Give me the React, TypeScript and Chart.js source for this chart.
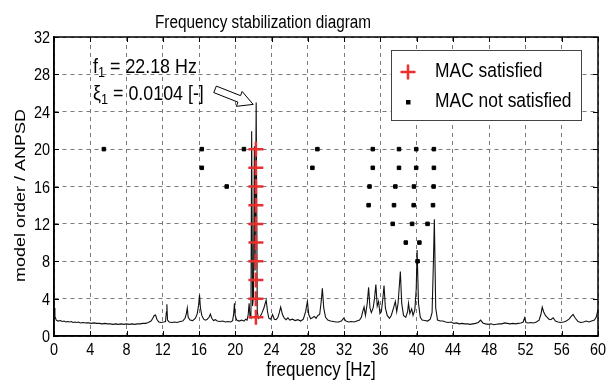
import React, { useEffect, useRef } from "react";
import { Chart, registerables } from "chart.js";

Chart.register(...registerables);

// ---------- data ----------
const X_TICKS = [0, 4, 8, 12, 16, 20, 24, 28, 32, 36, 40, 44, 48, 52, 56, 60];
const Y_TICKS = [0, 4, 8, 12, 16, 20, 24, 28, 32];

// ANPSD spectrum: [frequency Hz, value]
const ANPSD: [number, number][] = [
  [0.0, 3.0], [0.1, 2.1], [0.25, 1.7], [0.45, 1.6], [0.7, 1.65], [0.9, 1.55], [1.1, 1.6], [1.3, 1.5],
  [1.5, 1.55], [1.7, 1.5], [1.9, 1.55], [2.1, 1.45], [2.3, 1.5], [2.5, 1.45], [2.7, 1.5], [2.9, 1.4],
  [3.2, 1.45], [3.5, 1.4], [3.8, 1.4], [4.1, 1.35], [4.4, 1.4], [4.7, 1.35], [5.0, 1.35], [5.3, 1.3],
  [5.6, 1.35], [5.9, 1.3], [6.2, 1.3], [6.5, 1.25], [6.8, 1.3], [7.1, 1.25], [7.4, 1.3], [7.7, 1.25],
  [8.0, 1.3], [8.3, 1.25], [8.6, 1.3], [8.9, 1.25], [9.2, 1.3], [9.5, 1.3], [9.8, 1.35], [10.1, 1.35],
  [10.4, 1.45], [10.7, 1.6], [10.9, 1.9], [11.05, 2.2], [11.2, 2.25], [11.35, 1.8], [11.55, 1.5], [11.8, 1.45],
  [12.1, 1.5], [12.3, 1.55], [12.4, 2.6], [12.45, 3.4], [12.52, 1.7], [12.7, 1.5], [13.0, 1.45], [13.3, 1.5],
  [13.6, 1.45], [13.9, 1.55], [14.2, 1.6], [14.45, 1.9], [14.6, 2.4], [14.7, 3.0], [14.8, 2.0], [15.0, 1.7],
  [15.3, 1.65], [15.6, 1.9], [15.8, 2.4], [15.95, 3.3], [16.05, 4.4], [16.15, 3.0], [16.3, 2.2], [16.5, 1.8],
  [16.7, 1.7], [16.9, 1.8], [17.1, 2.0], [17.25, 2.35], [17.4, 1.9], [17.6, 1.65], [17.8, 1.75], [18.0, 1.6],
  [18.3, 1.55], [18.6, 1.6], [18.9, 1.5], [19.2, 1.55], [19.5, 1.5], [19.7, 1.65], [19.82, 2.4], [19.9, 3.5],
  [19.98, 2.2], [20.15, 1.7], [20.4, 1.6], [20.7, 1.7], [20.95, 1.6], [21.15, 1.8], [21.3, 1.7], [21.42, 2.3],
  [21.52, 3.5], [21.62, 2.0], [21.72, 1.9], [21.8, 21.9], [21.9, 3.2], [22.0, 4.2], [22.1, 20.3], [22.18, 7.0],
  [22.3, 25.0], [22.42, 2.6], [22.55, 1.9], [22.75, 2.1], [22.95, 2.5], [23.15, 3.0], [23.4, 3.85], [23.55, 2.6],
  [23.7, 1.9], [23.9, 1.8], [24.1, 2.3], [24.3, 1.8], [24.5, 1.75], [24.7, 2.0], [24.85, 2.5], [25.0, 3.1],
  [25.2, 2.3], [25.4, 1.9], [25.6, 1.75], [25.8, 1.95], [26.0, 1.7], [26.3, 1.8], [26.6, 1.65], [26.9, 1.75],
  [27.2, 1.6], [27.5, 1.8], [27.75, 2.6], [27.95, 3.7], [28.1, 2.3], [28.3, 1.85], [28.5, 1.95], [28.7, 2.1],
  [28.9, 1.9], [29.1, 2.2], [29.3, 2.3], [29.45, 3.5], [29.6, 5.1], [29.75, 3.0], [29.95, 2.0], [30.2, 1.7],
  [30.5, 1.6], [30.8, 1.55], [31.1, 1.5], [31.4, 1.5], [31.7, 1.6], [31.95, 1.9], [32.2, 1.6], [32.5, 1.5],
  [32.8, 1.55], [33.1, 1.5], [33.4, 1.6], [33.7, 1.7], [33.9, 2.0], [34.05, 2.6], [34.2, 3.1], [34.35, 2.2],
  [34.55, 3.5], [34.7, 5.2], [34.85, 3.0], [35.0, 2.5], [35.2, 3.0], [35.35, 4.0], [35.5, 5.5], [35.65, 3.2],
  [35.8, 3.7], [35.95, 2.4], [36.1, 2.6], [36.25, 3.8], [36.4, 5.4], [36.55, 3.0], [36.75, 2.2], [37.0, 1.9],
  [37.2, 2.2], [37.45, 3.0], [37.65, 3.7], [37.8, 2.6], [37.95, 3.5], [38.2, 6.9], [38.35, 3.5], [38.55, 2.2],
  [38.8, 2.0], [39.0, 2.6], [39.1, 3.5], [39.25, 2.4], [39.45, 2.9], [39.6, 2.2], [39.8, 2.8], [39.95, 5.0],
  [40.05, 9.2], [40.2, 3.5], [40.4, 2.0], [40.6, 1.7], [40.9, 1.65], [41.2, 1.6], [41.5, 1.8], [41.7, 2.5],
  [41.85, 8.0], [41.95, 12.5], [42.1, 3.0], [42.3, 1.7], [42.6, 1.6], [42.9, 1.6], [43.2, 1.5], [43.5, 1.45],
  [43.8, 1.5], [44.1, 1.35], [44.4, 1.4], [44.7, 1.3], [45.0, 1.35], [45.3, 1.3], [45.6, 1.3], [45.9, 1.25],
  [46.2, 1.3], [46.5, 1.35], [46.8, 1.45], [47.05, 1.7], [47.3, 1.4], [47.6, 1.3], [47.9, 1.25], [48.2, 1.3],
  [48.5, 1.2], [48.8, 1.25], [49.1, 1.3], [49.4, 1.3], [49.7, 1.4], [50.0, 1.35], [50.3, 1.3], [50.6, 1.35],
  [50.9, 1.3], [51.2, 1.35], [51.5, 1.4], [51.75, 1.5], [51.9, 1.95], [52.05, 1.45], [52.3, 1.4], [52.6, 1.45],
  [52.9, 1.4], [53.2, 1.5], [53.5, 1.7], [53.7, 2.3], [53.85, 3.1], [54.0, 2.6], [54.2, 2.2], [54.4, 2.0],
  [54.6, 1.8], [54.8, 1.75], [55.05, 1.95], [55.3, 1.6], [55.6, 1.5], [55.9, 1.45], [56.2, 1.5], [56.5, 1.6],
  [56.8, 1.8], [57.05, 2.1], [57.25, 2.3], [57.5, 1.9], [57.8, 1.55], [58.1, 1.45], [58.4, 1.5], [58.7, 1.6],
  [59.0, 1.5], [59.3, 1.6], [59.6, 1.7], [59.8, 2.0], [60.0, 2.8],
];

// MAC satisfied (stable poles)
const SAT_FREQ = [22.27, 22.26, 22.27, 22.26, 22.27, 22.26, 22.27, 22.27, 22.26, 22.27];
const SAT_ORDER = [2, 4, 6, 8, 10, 12, 14, 16, 18, 20];

// MAC not satisfied
const NOT_FREQ = [
  5.5, 16.3, 20.95, 29.05, 35.16, 38.05, 39.95, 41.9,
  16.3, 28.5, 35.16, 38.05, 39.95, 41.9,
  19.05, 34.8, 37.65, 39.7, 41.87,
  34.7, 37.5, 39.67, 41.8,
  37.36, 39.5, 41.2,
  38.8, 40.3,
  40.1,
];
const NOT_ORDER = [
  20, 20, 20, 20, 20, 20, 20, 20,
  18, 18, 18, 18, 18, 18,
  16, 16, 16, 16, 16,
  14, 14, 14, 14,
  12, 12, 12,
  10, 10,
  8,
];

const TITLE = "Frequency stabilization diagram";
const X_TITLE = "frequency [Hz]";
const Y_TITLE = "model order / ANPSD";
const LEGEND_SAT = "MAC satisfied";
const LEGEND_NOT = "MAC not satisfied";
const ANNOT_FREQ = "22.18";
const ANNOT_DAMP = "0.0104";

// ---------- styling ----------
const FONT = "'Liberation Sans', Arial, sans-serif";
const SX = 0.85; // horizontal condensation of all text
const RED = "#e8302e";

function narrowText(
  ctx: CanvasRenderingContext2D,
  text: string,
  x: number,
  y: number,
  size: number,
  align: CanvasTextAlign = "left",
  baseline: CanvasTextBaseline = "alphabetic"
): number {
  ctx.save();
  ctx.font = `${size}px ${FONT}`;
  ctx.textAlign = align;
  ctx.textBaseline = baseline;
  ctx.translate(x, y);
  ctx.scale(SX, 1);
  ctx.fillText(text, 0, 0);
  const w = ctx.measureText(text).width * SX;
  ctx.restore();
  return w;
}

function subText(ctx: CanvasRenderingContext2D, x: number, y: number, main: string, sub: string, rest: string, size: number) {
  let cx = x;
  cx += narrowText(ctx, main, cx, y, size);
  cx += narrowText(ctx, sub, cx, y + 4, Math.round(size * 0.7));
  narrowText(ctx, rest, cx, y, size);
}

const overlayPlugin = {
  id: "overlay",
  afterDraw(chart: any) {
    const { ctx, chartArea: a, scales } = chart;
    const xs = scales.x;
    const ys = scales.y;
    ctx.save();
    ctx.setLineDash([]);

    // inward tick marks
    ctx.strokeStyle = "#000";
    ctx.lineWidth = 1;
    ctx.beginPath();
    for (const v of X_TICKS) {
      const px = Math.round(xs.getPixelForValue(v)) + 0.5;
      ctx.moveTo(px, a.bottom);
      ctx.lineTo(px, a.bottom - 5);
      ctx.moveTo(px, a.top);
      ctx.lineTo(px, a.top + 5);
    }
    for (const v of Y_TICKS) {
      const py = Math.round(ys.getPixelForValue(v)) + 0.5;
      ctx.moveTo(a.left, py);
      ctx.lineTo(a.left + 5, py);
      ctx.moveTo(a.right, py);
      ctx.lineTo(a.right - 5, py);
    }
    ctx.stroke();

    // frame
    ctx.lineWidth = 1.5;
    ctx.strokeRect(a.left, a.top, a.right - a.left, a.bottom - a.top);

    ctx.fillStyle = "#000";
    // tick labels
    for (const v of X_TICKS) {
      narrowText(ctx, String(v), xs.getPixelForValue(v), a.bottom + 19, 17, "center");
    }
    for (const v of Y_TICKS) {
      narrowText(ctx, String(v), a.left - 4, ys.getPixelForValue(v) + 6, 17, "right");
    }

    // chart title
    narrowText(ctx, TITLE, a.left + 209, 28, 18, "center");
    // x title
    narrowText(ctx, X_TITLE, (a.left + a.right) / 2 - 5, 376, 20, "center");
    // y title (rotated, condensed in screen x)
    ctx.save();
    ctx.font = `18px ${FONT}`;
    ctx.textAlign = "center";
    ctx.textBaseline = "alphabetic";
    ctx.translate(25, (a.top + a.bottom) / 2 + 9);
    ctx.rotate(-Math.PI / 2);
    ctx.scale(1, SX);
    ctx.fillText(Y_TITLE, 0, 0);
    ctx.restore();

    // legend box
    const lx = a.right - 207;
    const ly = a.top + 13;
    const lw = 190;
    const lh = 70;
    ctx.fillStyle = "#fff";
    ctx.fillRect(lx, ly, lw, lh);
    ctx.strokeStyle = "#444";
    ctx.lineWidth = 1;
    ctx.strokeRect(lx + 0.5, ly + 0.5, lw, lh);
    ctx.strokeStyle = RED;
    ctx.lineWidth = 2.5;
    ctx.beginPath();
    ctx.moveTo(lx + 17 - 7.5, ly + 22);
    ctx.lineTo(lx + 17 + 7.5, ly + 22);
    ctx.moveTo(lx + 17, ly + 22 - 7.5);
    ctx.lineTo(lx + 17, ly + 22 + 7.5);
    ctx.stroke();
    ctx.fillStyle = "#000";
    ctx.fillRect(lx + 15, ly + 50, 4.5, 4.5);
    narrowText(ctx, LEGEND_SAT, lx + 44, ly + 26.5, 20.5);
    narrowText(ctx, LEGEND_NOT, lx + 44, ly + 56.5, 20.5);

    // annotation text
    const tx = xs.getPixelForValue(4.3);
    subText(ctx, tx, ys.getPixelForValue(28.2), "f", "1", ` = ${ANNOT_FREQ} Hz`, 21);
    subText(ctx, tx, ys.getPixelForValue(25.3), "\u03BE", "1", ` = ${ANNOT_DAMP} [-]`, 21);

    // hollow arrow pointing at spectrum peak
    let pk = ANPSD[0];
    for (const p of ANPSD) if (p[1] > pk[1]) pk = p;
    const tipX = xs.getPixelForValue(pk[0]) - 3;
    const tipY = ys.getPixelForValue(pk[1]) + 2;
    const dx = 38, dy = 15;
    const len = Math.hypot(dx, dy);
    const ux = dx / len, uy = dy / len;
    const nx = -uy, ny = ux;
    const L = 41, H = 15, w = 3.5, hw = 8;
    const Tx = tipX - L * ux, Ty = tipY - L * uy;
    const Bx = tipX - H * ux, By = tipY - H * uy;
    ctx.beginPath();
    ctx.moveTo(Tx + w * nx, Ty + w * ny);
    ctx.lineTo(Bx + w * nx, By + w * ny);
    ctx.lineTo(Bx + hw * nx, By + hw * ny);
    ctx.lineTo(tipX, tipY);
    ctx.lineTo(Bx - hw * nx, By - hw * ny);
    ctx.lineTo(Bx - w * nx, By - w * ny);
    ctx.lineTo(Tx - w * nx, Ty - w * ny);
    ctx.closePath();
    ctx.fillStyle = "#fff";
    ctx.fill();
    ctx.strokeStyle = "#000";
    ctx.lineWidth = 1;
    ctx.stroke();

    ctx.restore();
  },
};

export default function App() {
  const ref = useRef<HTMLCanvasElement>(null);

  useEffect(() => {
    document.body.style.margin = "0";
    const canvas = ref.current;
    if (!canvas) return;

    const chart = new Chart(canvas, {
      type: "scatter",
      data: {
        datasets: [
          {
            label: LEGEND_SAT,
            data: SAT_FREQ.map((f, i) => ({ x: f, y: SAT_ORDER[i] })),
            pointStyle: "cross",
            pointRadius: 7.5,
            pointBorderWidth: 2.5,
            borderColor: RED,
            backgroundColor: RED,
            order: 0,
          } as any,
          {
            label: LEGEND_NOT,
            data: NOT_FREQ.map((f, i) => ({ x: f, y: NOT_ORDER[i] })),
            pointStyle: "rect",
            pointRadius: 2.5,
            pointBorderWidth: 1,
            borderColor: "#000",
            backgroundColor: "#000",
            order: 1,
          } as any,
          {
            label: "ANPSD",
            data: ANPSD.map(([f, v]) => ({ x: f, y: v })),
            showLine: true,
            pointRadius: 0,
            borderColor: "#111",
            borderWidth: 1.1,
            tension: 0,
            order: 2,
          } as any,
        ],
      },
      options: {
        animation: false,
        responsive: false,
        events: [],
        layout: { padding: { left: 0, right: 8, top: 37, bottom: 0 } },
        plugins: {
          legend: { display: false },
          tooltip: { enabled: false },
          title: { display: false },
        },
        scales: {
          x: {
            type: "linear",
            min: 0,
            max: 60,
            afterBuildTicks: (s: any) => {
              s.ticks = X_TICKS.map((v) => ({ value: v }));
            },
            afterFit: (s: any) => {
              s.height = 52;
            },
            ticks: { display: false },
            grid: { color: "#7a7a7a", lineWidth: 1, drawTicks: false },
            border: { display: true, color: "#000", width: 1.5, dash: [4, 4] },
          },
          y: {
            type: "linear",
            min: 0,
            max: 32,
            afterBuildTicks: (s: any) => {
              s.ticks = Y_TICKS.map((v) => ({ value: v }));
            },
            afterFit: (s: any) => {
              s.width = 54;
            },
            ticks: { display: false },
            grid: { color: "#7a7a7a", lineWidth: 1, drawTicks: false },
            border: { display: true, color: "#000", width: 1.5, dash: [4, 4] },
          },
        },
      },
      plugins: [overlayPlugin],
    });

    return () => chart.destroy();
  }, []);

  return <canvas ref={ref} width={608} height={388} style={{ display: "block" }} />;
}
